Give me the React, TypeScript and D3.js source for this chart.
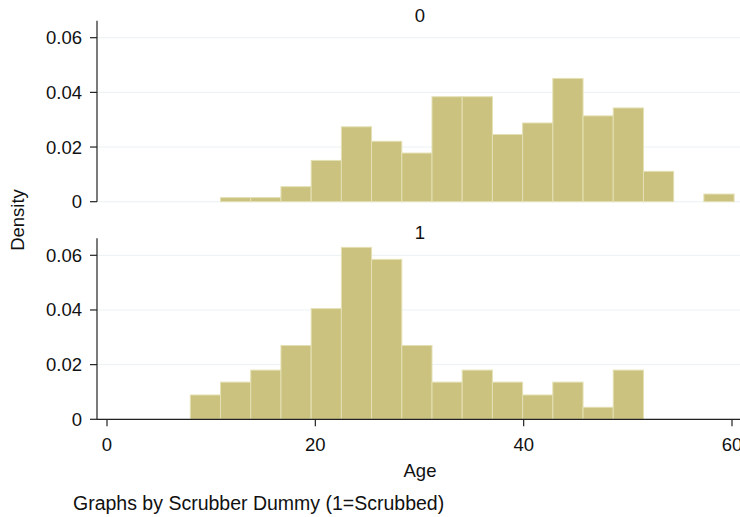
import React, { useEffect, useRef } from 'react';
import * as d3 from 'd3';

// Histogram bins (age), shared by both panels
const binStart = 8;
const binWidth = 2.9;

// Densities per bin, panel "0" (not scrubbed) and panel "1" (scrubbed)
const density0 = [0, 0.0015, 0.0015, 0.0055, 0.0151, 0.0274, 0.0221, 0.0178, 0.0384, 0.0384,
  0.0246, 0.0288, 0.0451, 0.0314, 0.0343, 0.0111, 0, 0.0028];
const density1 = [0.0089, 0.0136, 0.018, 0.027, 0.0405, 0.0629, 0.0585, 0.027, 0.0136, 0.018,
  0.0136, 0.0089, 0.0136, 0.0044, 0.018, 0, 0, 0];

const panelLabels = ['0', '1'];
const xTicks = [0, 20, 40, 60];
const yTicks = [0, 0.02, 0.04, 0.06];

const W = 740;
const H = 517;
const font = '"Liberation Sans", Arial, sans-serif';

export default function App() {
  const svgRef = useRef<SVGSVGElement>(null);

  useEffect(() => {
    if (!svgRef.current) return;
    const svg = d3.select(svgRef.current);
    svg.selectAll('*').remove();

    const x = d3.scaleLinear().domain([0, 60]).range([107, 732]);
    const left = 97;

    const panels = [
      { data: density0, label: panelLabels[0], top: 20.7, base: 201.7, showX: false },
      { data: density1, label: panelLabels[1], top: 238.3, base: 419.3, showX: true },
    ];

    panels.forEach(p => {
      const y = d3.scaleLinear().domain([0, 0.06]).range([p.base, p.base - 164]);
      const g = svg.append('g');

      // gridlines
      g.selectAll('line.grid')
        .data(yTicks)
        .enter()
        .append('line')
        .attr('x1', left)
        .attr('x2', W)
        .attr('y1', d => y(d))
        .attr('y2', d => y(d))
        .attr('stroke', '#eaf2f3')
        .attr('stroke-width', 1);

      // bars
      g.selectAll('rect')
        .data(p.data.map((v, i) => ({ v, i })).filter(d => d.v > 0))
        .enter()
        .append('rect')
        .attr('x', d => x(binStart + d.i * binWidth))
        .attr('width', x(binStart + binWidth) - x(binStart))
        .attr('y', d => y(d.v))
        .attr('height', d => y(0) - y(d.v))
        .attr('fill', '#cac27e')
        .attr('stroke', '#e4e0b4')
        .attr('stroke-width', 1);

      // y axis
      g.append('line')
        .attr('x1', left).attr('x2', left)
        .attr('y1', p.top).attr('y2', p.base)
        .attr('stroke', '#222').attr('stroke-width', 1.2);

      g.selectAll('line.ytick')
        .data(yTicks)
        .enter()
        .append('line')
        .attr('x1', 90).attr('x2', left)
        .attr('y1', d => y(d)).attr('y2', d => y(d))
        .attr('stroke', '#222').attr('stroke-width', 1.2);

      g.selectAll('text.ylab')
        .data(yTicks)
        .enter()
        .append('text')
        .attr('x', 82)
        .attr('y', d => y(d))
        .attr('dy', '0.35em')
        .attr('text-anchor', 'end')
        .attr('font-family', font)
        .attr('font-size', 18.5)
        .attr('fill', '#111')
        .text(d => (d === 0 ? '0' : d3.format('.2f')(d)));

      // panel title
      g.append('text')
        .attr('x', 420)
        .attr('y', p.top + 1)
        .attr('text-anchor', 'middle')
        .attr('font-family', font)
        .attr('font-size', 18.5)
        .attr('fill', '#111')
        .text(p.label);

      if (p.showX) {
        g.append('line')
          .attr('x1', left).attr('x2', W)
          .attr('y1', p.base).attr('y2', p.base)
          .attr('stroke', '#222').attr('stroke-width', 1.2);

        g.selectAll('line.xtick')
          .data(xTicks)
          .enter()
          .append('line')
          .attr('x1', d => x(d)).attr('x2', d => x(d))
          .attr('y1', p.base).attr('y2', p.base + 7)
          .attr('stroke', '#222').attr('stroke-width', 1.2);

        g.selectAll('text.xlab')
          .data(xTicks)
          .enter()
          .append('text')
          .attr('x', d => x(d))
          .attr('y', p.base + 32)
          .attr('text-anchor', 'middle')
          .attr('font-family', font)
          .attr('font-size', 18.5)
          .attr('fill', '#111')
          .text(d => String(d));
      }
    });

    svg.append('text')
      .attr('transform', 'translate(24,220) rotate(-90)')
      .attr('text-anchor', 'middle')
      .attr('font-family', font)
      .attr('font-size', 18.5)
      .attr('fill', '#111')
      .text('Density');

    svg.append('text')
      .attr('x', 420)
      .attr('y', 477)
      .attr('text-anchor', 'middle')
      .attr('font-family', font)
      .attr('font-size', 18.5)
      .attr('fill', '#111')
      .text('Age');

    svg.append('text')
      .attr('x', 73)
      .attr('y', 510)
      .attr('font-family', font)
      .attr('font-size', 19.5)
      .attr('fill', '#111')
      .text('Graphs by Scrubber Dummy (1=Scrubbed)');
  }, []);

  return (
    <svg
      ref={svgRef}
      width={W}
      height={H}
      style={{ position: 'absolute', left: 0, top: 0, background: '#fff', overflow: 'hidden' }}
    />
  );
}
